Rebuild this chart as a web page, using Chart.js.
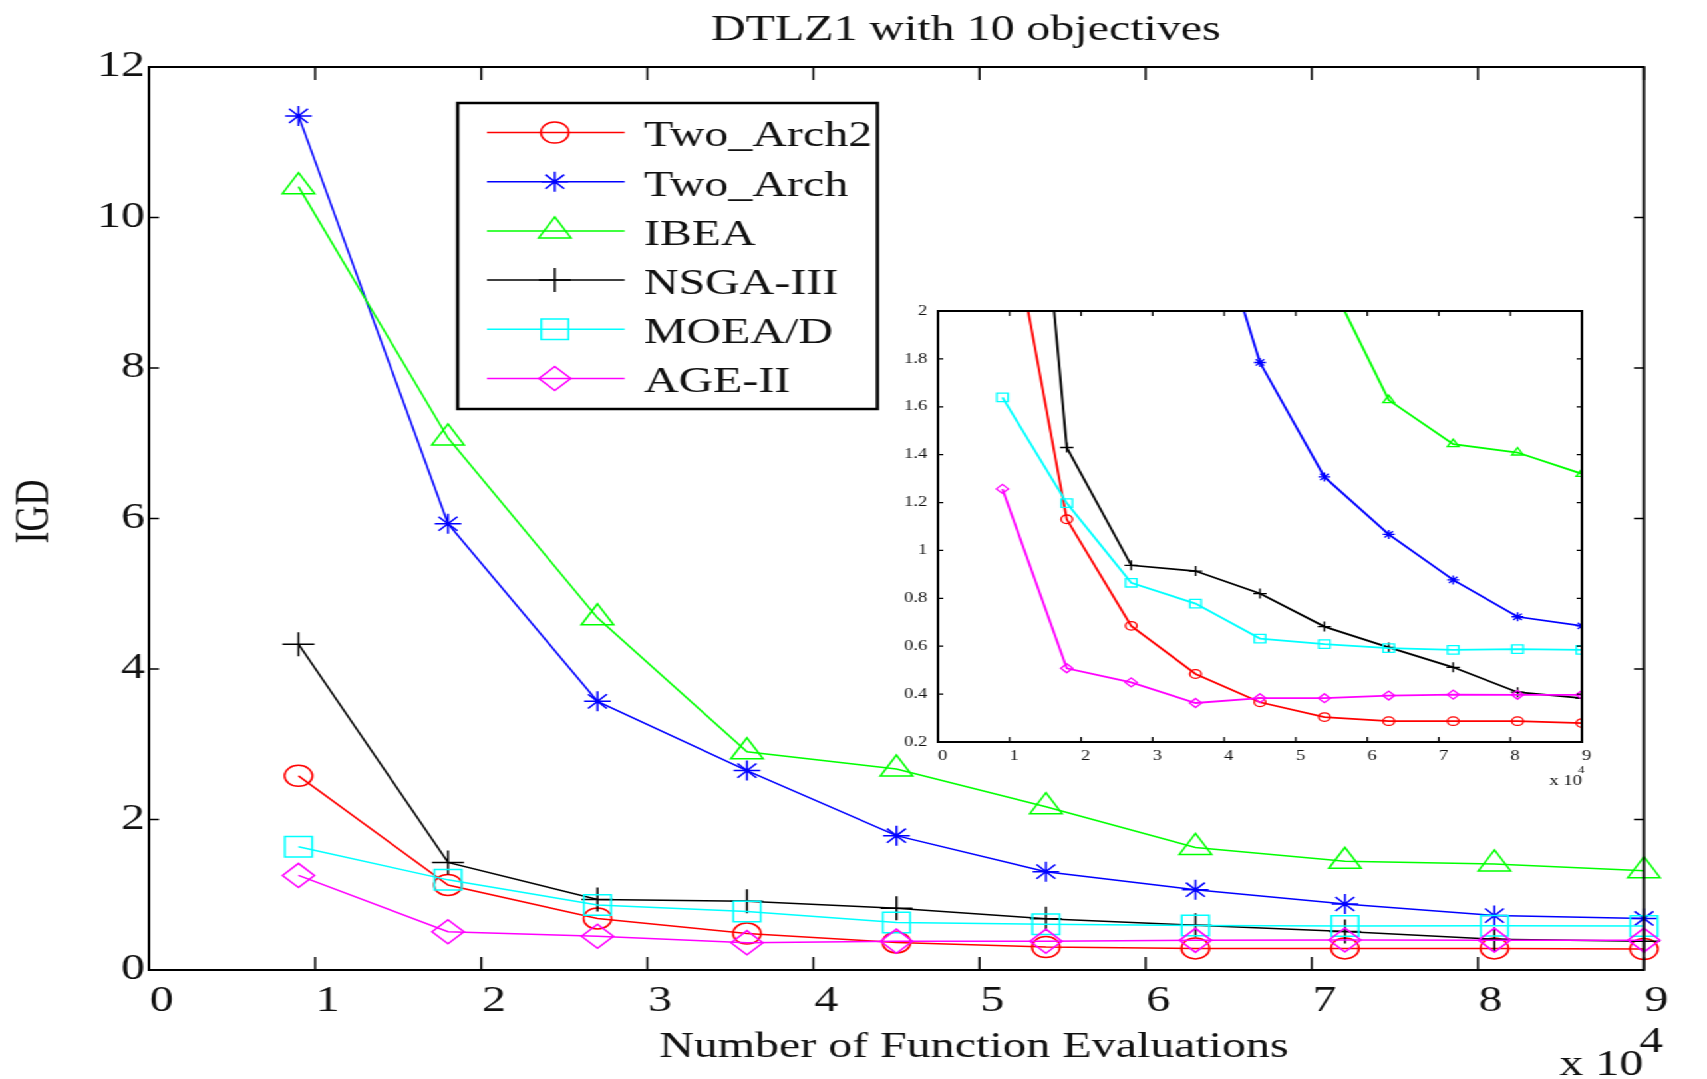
<!DOCTYPE html>
<html>
<head>
<meta charset="utf-8">
<script src="https://cdn.jsdelivr.net/npm/chart.js@4.4.1/dist/chart.umd.min.js"></script>
<style>
  html, body { margin: 0; padding: 0; background: #ffffff; overflow: hidden; }
  #stage { position: absolute; left: 0; top: 0; width: 1283px; height: 1079px;
           transform: scaleX(1.3305); transform-origin: 0 0; }
  #main { position: absolute; left: 0; top: 0; width: 1283px; height: 1079px; }
  #inset { position: absolute; left: 640px; top: 290px; width: 580px; height: 520px; }
</style>
</head>
<body>
<div id="stage">
  <canvas id="main" width="1283" height="1079"></canvas>
  <canvas id="inset" width="580" height="520"></canvas>
</div>
<script>
// ---------------- data ----------------
const evaluations = [0.9, 1.8, 2.7, 3.6, 4.5, 5.4, 6.3, 7.2, 8.1, 9.0]; // x 10^4
const algorithms = ['Two_Arch2', 'Two_Arch', 'IBEA', 'NSGA-III', 'MOEA/D', 'AGE-II'];
const twoArch2 = [2.58, 1.13, 0.685, 0.484, 0.366, 0.304, 0.287, 0.287, 0.287, 0.279];
const twoArch  = [11.35, 5.93, 3.57, 2.65, 1.785, 1.307, 1.067, 0.877, 0.723, 0.685];
const ibea     = [10.41, 7.07, 4.68, 2.90, 2.67, 2.17, 1.628, 1.444, 1.409, 1.320];
const nsga3    = [4.33, 1.43, 0.938, 0.914, 0.820, 0.682, 0.595, 0.512, 0.408, 0.383];
const moead    = [1.639, 1.198, 0.865, 0.778, 0.632, 0.609, 0.592, 0.585, 0.588, 0.585];
const age2     = [1.257, 0.508, 0.449, 0.363, 0.383, 0.383, 0.394, 0.398, 0.397, 0.397];

const mainXTicks = [0, 1, 2, 3, 4, 5, 6, 7, 8, 9];
const mainYTicks = [0, 2, 4, 6, 8, 10, 12];
const insetXTicks = [0, 1, 2, 3, 4, 5, 6, 7, 8, 9];
const insetYTicks = [0.2, 0.4, 0.6, 0.8, 1, 1.2, 1.4, 1.6, 1.8, 2];

const titleText = 'DTLZ1 with 10 objectives';
const xAxisLabel = 'Number of Function Evaluations';
const yAxisLabel = 'IGD';
const multiplierBase = 'x 10';
const multiplierExp = '4';

// ---------------- styles ----------------
const seriesValues = [twoArch2, twoArch, ibea, nsga3, moead, age2];
const colors = ['#ff0000', '#0000ff', '#00ff00', '#000000', '#00ffff', '#ff00ff'];
const markers = ['circle', 'star', 'triangle', 'cross', 'rect', 'rectRot'];
const mainRadius = [10.5, 10, 14, 12, 14.5, 12];
const insetRadius = [4.3, 4.5, 5, 5, 6, 4.5];
const FONT = '"Liberation Serif", "Times New Roman", serif';
const TXT = '#111111';

function buildDatasets(radii, lineW, ptW, clip) {
  return algorithms.map((name, i) => ({
    label: name,
    data: evaluations.map((x, k) => ({ x: x, y: seriesValues[i][k] })),
    borderColor: colors[i],
    backgroundColor: colors[i],
    borderWidth: lineW,
    pointStyle: markers[i],
    pointRadius: radii[i],
    pointHoverRadius: radii[i],
    pointBorderColor: colors[i],
    pointBackgroundColor: 'rgba(0,0,0,0)',
    pointBorderWidth: ptW,
    tension: 0,
    fill: false,
    clip: clip,
    order: algorithms.length - 1 - i
  }));
}

function fixedTicks(arr) {
  return function (scale) { scale.ticks = arr.map(v => ({ value: v })); };
}
function fmt(v) { return String(+(+v).toFixed(1)); }

function drawInwardTicks(chart, xLen, yLen, lw) {
  const ctx = chart.ctx, a = chart.chartArea;
  const xs = chart.scales.x, ys = chart.scales.y;
  ctx.save();
  ctx.strokeStyle = '#000';
  ctx.lineWidth = lw;
  ctx.beginPath();
  xs.ticks.forEach(t => {
    const px = xs.getPixelForValue(t.value);
    ctx.moveTo(px, a.bottom); ctx.lineTo(px, a.bottom - xLen);
    ctx.moveTo(px, a.top); ctx.lineTo(px, a.top + xLen);
  });
  ys.ticks.forEach(t => {
    const py = ys.getPixelForValue(t.value);
    ctx.moveTo(a.left, py); ctx.lineTo(a.left + yLen, py);
    ctx.moveTo(a.right, py); ctx.lineTo(a.right - yLen, py);
  });
  ctx.stroke();
  ctx.restore();
}

function drawBox(chart, lw) {
  const ctx = chart.ctx, a = chart.chartArea;
  ctx.save();
  ctx.strokeStyle = '#000';
  ctx.lineWidth = lw;
  ctx.strokeRect(a.left, a.top, a.right - a.left, a.bottom - a.top);
  ctx.restore();
}

function marker(ctx, style, r, x, y, color, bw) {
  ctx.save();
  ctx.strokeStyle = color;
  ctx.fillStyle = 'rgba(0,0,0,0)';
  ctx.lineWidth = bw;
  if (Chart.helpers && Chart.helpers.drawPoint) {
    Chart.helpers.drawPoint(ctx, { pointStyle: style, radius: r, rotation: 0, borderWidth: bw }, x, y);
  } else {
    ctx.beginPath();
    ctx.arc(x, y, r, 0, Math.PI * 2);
    ctx.stroke();
  }
  ctx.restore();
}

// ---------------- main chart ----------------
const mainPlugin = {
  id: 'mainDecor',
  beforeDraw(chart) {
    const ctx = chart.ctx;
    ctx.save();
    ctx.fillStyle = '#ffffff';
    ctx.fillRect(0, 0, chart.width, chart.height);
    ctx.restore();
  },
  afterDraw(chart) {
    const ctx = chart.ctx;
    drawInwardTicks(chart, 13, 7.5, 1.5);
    drawBox(chart, 2);

    // legend
    const L = { left: 344, top: 103, right: 659.5, bottom: 409 };
    ctx.save();
    ctx.fillStyle = '#ffffff';
    ctx.fillRect(L.left, L.top, L.right - L.left, L.bottom - L.top);
    ctx.strokeStyle = '#000';
    ctx.lineWidth = 2.5;
    ctx.strokeRect(L.left, L.top, L.right - L.left, L.bottom - L.top);
    chart.data.datasets.forEach((ds, i) => {
      const y = 132.5 + i * 49.2;
      ctx.strokeStyle = ds.borderColor;
      ctx.lineWidth = 1.5;
      ctx.beginPath();
      ctx.moveTo(366, y); ctx.lineTo(469.5, y);
      ctx.stroke();
      marker(ctx, ds.pointStyle, ds.pointRadius, 417, y, ds.borderColor, 1.5);
      ctx.fillStyle = TXT;
      ctx.font = '36px ' + FONT;
      ctx.textAlign = 'left';
      ctx.textBaseline = 'middle';
      ctx.fillText(ds.label, 484, y + 4.5);
    });
    ctx.restore();

    // texts
    ctx.save();
    ctx.fillStyle = TXT;
    ctx.font = '36px ' + FONT;
    ctx.textBaseline = 'alphabetic';
    ctx.textAlign = 'center';
    ctx.fillText(titleText, 726, 39.5);
    ctx.fillText(xAxisLabel, 732, 1057);
    ctx.textAlign = 'right';
    ctx.fillText(multiplierBase, 1235, 1075);
    ctx.textAlign = 'left';
    ctx.fillText(multiplierExp, 1232, 1052);
    ctx.translate(36.3, 511.5);
    ctx.rotate(-Math.PI / 2);
    ctx.textAlign = 'center';
    ctx.fillText(yAxisLabel, 0, 0);
    ctx.restore();
  }
};

new Chart(document.getElementById('main'), {
  type: 'line',
  data: { datasets: buildDatasets(mainRadius, 1.5, 1.5, false) },
  options: {
    responsive: false,
    devicePixelRatio: 1,
    animation: false,
    events: [],
    layout: { padding: { left: 0, right: 47.4, top: 67, bottom: 0 } },
    plugins: { legend: { display: false }, title: { display: false }, tooltip: { enabled: false } },
    scales: {
      x: {
        type: 'linear', min: 0, max: 9,
        afterBuildTicks: fixedTicks(mainXTicks),
        afterFit(s) { s.height = 109; },
        grid: { display: false, drawTicks: false, tickLength: 0 },
        border: { display: false },
        ticks: { color: TXT, font: { family: FONT, size: 36 }, padding: 9.5, labelOffset: 9.5,
                 maxRotation: 0, autoSkip: false, callback: v => fmt(v) }
      },
      y: {
        type: 'linear', min: 0, max: 12,
        afterBuildTicks: fixedTicks(mainYTicks),
        afterFit(s) { s.width = 112; },
        grid: { display: false, drawTicks: false, tickLength: 0 },
        border: { display: false },
        ticks: { color: TXT, font: { family: FONT, size: 36 }, padding: 3, autoSkip: false,
                 callback: v => fmt(v) }
      }
    }
  },
  plugins: [mainPlugin]
});

// ---------------- inset chart ----------------
const insetPlugin = {
  id: 'insetDecor',
  beforeDraw(chart) {
    const ctx = chart.ctx, a = chart.chartArea;
    ctx.save();
    ctx.fillStyle = '#ffffff';
    ctx.fillRect(a.left, a.top, a.right - a.left, a.bottom - a.top);
    ctx.restore();
  },
  afterDraw(chart) {
    const ctx = chart.ctx;
    drawInwardTicks(chart, 5, 4, 1.2);
    drawBox(chart, 2);
    ctx.save();
    ctx.fillStyle = TXT;
    ctx.textBaseline = 'alphabetic';
    ctx.font = '14px ' + FONT;
    ctx.textAlign = 'right';
    ctx.fillText(multiplierBase, 549, 495);
    ctx.font = '10px ' + FONT;
    ctx.textAlign = 'left';
    ctx.fillText(multiplierExp, 546, 483);
    ctx.restore();
  }
};

new Chart(document.getElementById('inset'), {
  type: 'line',
  data: { datasets: buildDatasets(insetRadius, 1.8, 1.3, 0) },
  options: {
    responsive: false,
    devicePixelRatio: 1,
    animation: false,
    events: [],
    layout: { padding: { left: 0, right: 31, top: 21, bottom: 0 } },
    plugins: { legend: { display: false }, title: { display: false }, tooltip: { enabled: false } },
    scales: {
      x: {
        type: 'linear', min: 0, max: 9,
        afterBuildTicks: fixedTicks(insetXTicks),
        afterFit(s) { s.height = 68; },
        grid: { display: false, drawTicks: false, tickLength: 0 },
        border: { display: false },
        ticks: { color: TXT, font: { family: FONT, size: 14 }, padding: 5.6, labelOffset: 3.5,
                 maxRotation: 0, autoSkip: false, callback: v => fmt(v) }
      },
      y: {
        type: 'linear', min: 0.2, max: 2,
        afterBuildTicks: fixedTicks(insetYTicks),
        afterFit(s) { s.width = 65; },
        grid: { display: false, drawTicks: false, tickLength: 0 },
        border: { display: false },
        ticks: { color: TXT, font: { family: FONT, size: 14 }, padding: 8, autoSkip: false,
                 callback: v => fmt(v) }
      }
    }
  },
  plugins: [insetPlugin]
});
</script>
</body>
</html>
